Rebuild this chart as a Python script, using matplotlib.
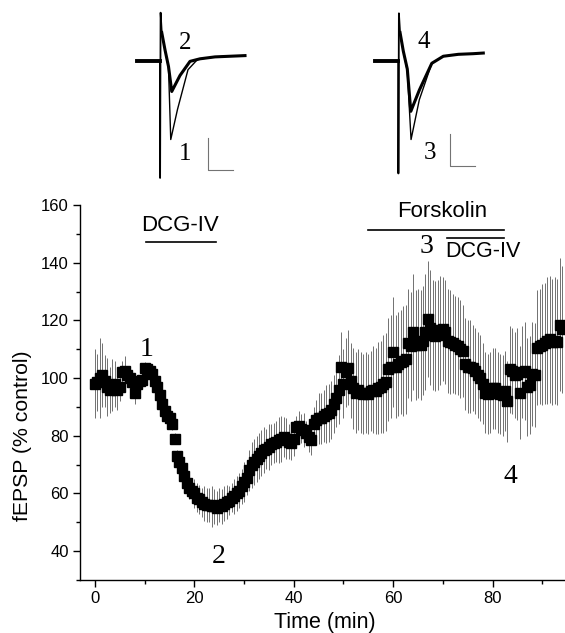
import numpy as np
import matplotlib
matplotlib.use("Agg")
import matplotlib.pyplot as plt

plt.rcParams['font.family'] = ['Liberation Sans', 'DejaVu Sans']

# fEPSP (% control), one point every 30 s from t = 0 to 94 min
fepsp = [
    98, 98.5, 100, 101, 99, 97, 96, 97.5, 98, 96,
    97, 102, 102.5, 101, 100, 98.5, 95, 98, 99, 99.5,
    103.5, 103, 102.5, 101.5, 99, 97, 94, 91, 88.5, 87,
    86, 84, 79, 73, 71, 69, 66, 63.5, 62, 61,
    60, 58.5, 58, 57, 56.5, 56, 56, 55.5, 55.5, 55,
    56, 55.5, 56.5, 57, 57.5, 58.5, 59, 60, 61, 62.5,
    64, 65.5, 68, 70, 71, 72, 73, 74, 75, 75.5,
    76, 77, 77.5, 78, 78.5, 79, 79.5, 79, 78, 77.5,
    79, 83, 83.5, 82.5, 82, 81, 79.5, 78.5, 84, 85.5,
    86, 86, 87, 87.5, 88, 89, 91, 93, 96, 104,
    98, 102, 103.5, 99, 96.5, 95, 96, 95, 94.5, 95,
    94.5, 95.5, 96, 95.5, 96.5, 97, 98, 98.5, 103, 104,
    109, 104, 105, 105.5, 106, 106.5, 112, 111, 116, 111.5,
    112, 111.5, 113, 116, 120.5, 117.5, 115, 114.5, 115, 116.5,
    117, 116, 113, 112.5, 112, 111.5, 111, 110, 109.5, 105,
    104, 104, 103.5, 102.5, 101, 100, 98, 95, 94.5, 95,
    96.5, 96.5, 95, 94.5, 94, 95.5, 92, 103, 102.5, 101,
    101.5, 95, 102, 102.5, 97, 97.5, 101.5, 101, 110.5, 111,
    111.5, 112, 113, 113.5, 112.5, 113, 112.5, 118.5, 117,
]
sem = [
    12, 10, 14, 11, 9, 10, 8, 9, 8, 7,
    5, 4, 5, 3, 3, 3, 4, 3, 2, 2,
    2, 2, 2, 2, 2, 2, 2, 2, 2, 2,
    2, 2, 2, 2, 2, 2, 3, 3, 4, 4,
    5, 5, 5, 5, 6, 6, 6, 7, 6, 6,
    6, 6, 6, 6, 5, 5, 6, 6, 6, 6,
    7, 6, 7, 8, 8, 8, 8, 8, 8, 7,
    8, 7, 7, 7, 8, 8, 7, 7, 6, 6,
    6, 4, 5, 5, 6, 4, 5, 5, 6, 7,
    9, 9, 9, 10, 10, 10, 10, 10, 12, 12,
    12, 12, 13, 13, 14, 14, 14, 14, 14, 14,
    14, 14, 15, 15, 16, 16, 17, 17, 18, 18,
    19, 18, 18, 18, 19, 19, 19, 19, 20, 19,
    19, 19, 19, 20, 20, 20, 19, 19, 19, 19,
    18, 18, 18, 18, 17, 17, 17, 17, 16, 16,
    16, 16, 15, 15, 15, 15, 14, 14, 14, 14,
    14, 14, 14, 14, 14, 14, 14, 15, 15, 15,
    16, 16, 16, 17, 17, 17, 18, 18, 20, 20,
    21, 21, 22, 22, 22, 22, 22, 23, 22,
]
time = np.arange(len(fepsp)) * 0.5

# drug application bars (min) and their heights (% control)
dcg1 = (10.3, 24.3, 147.3)
forsk = (55.0, 82.3, 151.3)
dcg2 = (70.8, 82.3, 148.7)

# sample points labels: (label, time, value)
points = [("1", 10.4, 110), ("2", 24.8, 38.3), ("3", 66.7, 145.5), ("4", 83.5, 66)]

# example traces (ms, mV); trace pairs before/after drug
t_pre = [-4.7, 0.0]
artifact_L = ([0.0, 0.02, 0.12, 0.35], [0.0, -1.82, 0.76, 0.45])
tr1_t = [0.35, 1.0, 1.7, 2.15, 3.5, 5.6, 7.5, 10, 13, 17]
tr1_v = [0.45, 0.18, -0.1, -1.22, -0.75, -0.13, 0.03, 0.06, 0.08, 0.09]
tr2_t = [0.35, 1.0, 1.7, 2.35, 4.0, 6.0, 8, 11, 14, 17]
tr2_v = [0.45, 0.18, -0.08, -0.47, -0.22, 0.0, 0.04, 0.07, 0.08, 0.09]

artifact_R = ([0.0, 0.02, 0.12, 0.35], [0.0, -1.75, 0.75, 0.45])
tr3_t = [0.35, 1.0, 1.8, 2.55, 4.2, 6.7, 9, 12, 15, 17]
tr3_v = [0.45, 0.16, -0.15, -1.22, -0.6, -0.03, 0.08, 0.11, 0.12, 0.13]
tr4_t = [0.35, 1.0, 1.8, 2.5, 4.2, 6.7, 9, 12, 15, 17]
tr4_v = [0.45, 0.16, -0.12, -0.78, -0.45, -0.03, 0.08, 0.11, 0.12, 0.13]

fig = plt.figure(figsize=(5.65, 6.33), dpi=100)
ax = fig.add_axes([80 / 565, 1 - 580 / 633, 485 / 565, 375 / 633])

ax.errorbar(time, fepsp, yerr=sem, fmt='none', ecolor='0.35', elinewidth=0.6, zorder=2)
ax.plot(time, fepsp, 's', color='black', ms=6.5, zorder=3)

ax.set_xlim(-3.02, 94.57)
ax.set_ylim(30, 160)
ax.set_xticks([0, 20, 40, 60, 80])
ax.set_xticks([10, 30, 50, 70, 90], minor=True)
ax.set_yticks([40, 60, 80, 100, 120, 140, 160])
ax.set_yticks([30, 50, 70, 90, 110, 130, 150], minor=True)
for s in ['top', 'right']:
    ax.spines[s].set_visible(False)
for s in ['left', 'bottom']:
    ax.spines[s].set_linewidth(1.0)
ax.tick_params(axis='both', which='major', labelsize=12, width=1.0, length=5, pad=3)
ax.tick_params(axis='both', which='minor', width=1.0, length=3)
ax.set_xlabel("Time (min)", fontsize=15.5, va='top')
ax.xaxis.set_label_coords(0.505, -0.085)
ax.set_ylabel("fEPSP (% control)", fontsize=15.3)
ax.yaxis.set_label_coords(-0.099, 0.384)

for t0, t1, y in [dcg1, forsk, dcg2]:
    ax.plot([t0, t1], [y, y], color='black', lw=1.2, clip_on=False)
ax.text(17.1, 153, "DCG-IV", fontsize=16, ha='center', va='center')
ax.text(69.9, 157.6, "Forskolin", fontsize=16, ha='center', va='center', clip_on=False)
ax.text(78.1, 143.8, "DCG-IV", fontsize=15.5, ha='center', va='center')
for lab, t, v in points:
    ax.text(t, v, lab, fontsize=20, family='Liberation Serif', ha='center', va='center')

# insets with example traces
def trace_inset(left_px, art, big_t, big_v, small_t, small_v, scale_t, scale_v, labs):
    ins = fig.add_axes([left_px / 565, 1 - 185 / 633, 120 / 565, 180 / 633])
    ins.set_xlim(-6, 18)
    ins.set_ylim(-1.93, 0.88)
    ins.axis('off')
    ins.plot(t_pre, [0, 0], color='black', lw=2.8)
    ins.plot(art[0], art[1], color='black', lw=1.3)
    ins.plot(big_t, big_v, color='black', lw=1.0)
    ins.plot(small_t, small_v, color='black', lw=2.2)
    ins.plot([scale_t, scale_t, scale_t + 5], [scale_v + 0.5, scale_v, scale_v], color='0.45', lw=0.8)
    for lab, t, v in labs:
        ins.text(t, v, lab, fontsize=18, family='Liberation Serif', ha='center', va='center')

trace_inset(130, artifact_L, tr1_t, tr1_v, tr2_t, tr2_v, 9.66, -1.7,
            [("2", 5, 0.29), ("1", 5, -1.44)])
trace_inset(368.3, artifact_R, tr3_t, tr3_v, tr4_t, tr4_v, 10.3, -1.63,
            [("4", 5, 0.31), ("3", 6.3, -1.43)])

fig.savefig("out.png", dpi=100)
